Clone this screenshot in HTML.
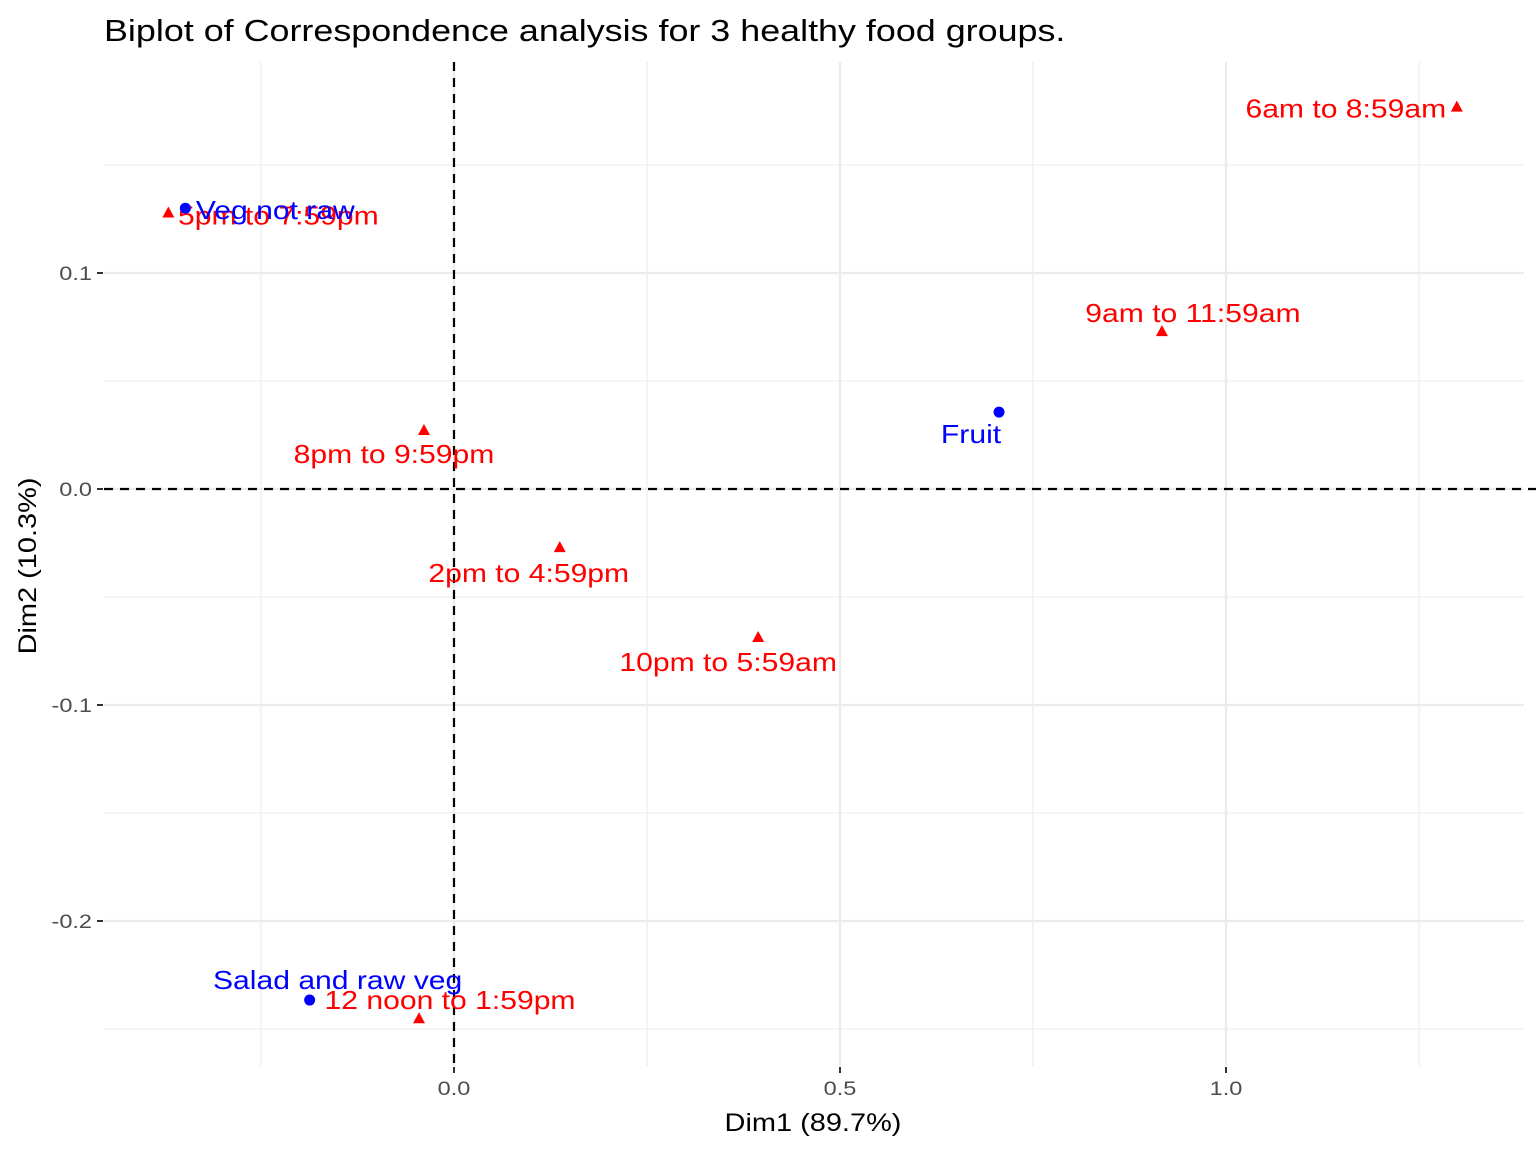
<!DOCTYPE html>
<html><head><meta charset="utf-8"><style>
body{margin:0;background:#fff;}
svg{display:block;font-family:"Liberation Sans",Arial,sans-serif;}
</style></head><body>
<svg id="chart" width="1536" height="1152">
<text class="w" x="104" y="41" font-size="31" fill="#000">Biplot of Correspondence analysis for 3 healthy food groups.</text>
<g id="grid"></g><g id="axes"></g><g id="marks"></g>
<text class="w" x="813" y="1131" font-size="25" text-anchor="middle">Dim1 (89.7%)</text>
<text class="w" transform="translate(36,566) rotate(-90)" font-size="25" text-anchor="middle">Dim2 (10.3%)</text>
</svg>
<script>
const colNames=["Veg not raw","Fruit","Salad and raw veg"];
const colX=[-0.348,0.706,-0.187];
const colY=[0.130,0.0356,-0.2366];
const rowNames=["6am to 8:59am","9am to 11:59am","8pm to 9:59pm","2pm to 4:59pm","10pm to 5:59am","5pm to 7:59pm","12 noon to 1:59pm"];
const rowX=[1.299,0.917,-0.0389,0.137,0.394,-0.370,-0.0453];
const rowY=[0.177,0.0731,0.0273,-0.0269,-0.0685,0.128,-0.245];
const xTicks=[0,0.5,1.0];const xTickLabels=["0.0","0.5","1.0"];
const xMinor=[-0.25,0.25,0.75,1.25];
const yTicks=[0.1,0,-0.1,-0.2];const yTickLabels=["0.1","0.0","-0.1","-0.2"];
const yMinor=[0.15,0.05,-0.05,-0.15,-0.25];
// label offsets in px (layout)
const colLab=[[90,10],[-28,30],[28,-12]];
const rowLab=[[-111,10],[31,-10],[-30,32],[-31,34],[-30,33],[110,11],[31,-10]];
const L=104,R=1524,T=62,B=1066;
const sx=v=>454+v*772, sy=v=>489-v*2160;
const NS="http://www.w3.org/2000/svg";
function mk(tag,attrs,parent){const e=document.createElementNS(NS,tag);for(const k in attrs)e.setAttribute(k,attrs[k]);parent.appendChild(e);return e;}
const grid=document.getElementById('grid'),axes=document.getElementById('axes'),marks=document.getElementById('marks');
xMinor.forEach(v=>{const l=mk('line',{x1:sx(v),x2:sx(v),y1:T,y2:B,stroke:'#ebebeb','stroke-width':1.1},grid);

});
yMinor.forEach(v=>{const l=mk('line',{x1:L,x2:R,y1:sy(v),y2:sy(v),stroke:'#ebebeb','stroke-width':1.1},grid);

});
xTicks.forEach((v,i)=>{const l=mk('line',{x1:sx(v),x2:sx(v),y1:T,y2:B,stroke:'#ebebeb','stroke-width':2.2},grid);


const tk=mk('line',{x1:sx(v),x2:sx(v),y1:B+1,y2:B+7,stroke:'#333','stroke-width':2},axes);


const t=mk('text',{class:'w',x:sx(v),y:1095,'font-size':19,fill:'#4d4d4d','text-anchor':'middle'},axes);t.textContent=xTickLabels[i];

});
yTicks.forEach((v,i)=>{const l=mk('line',{x1:L,x2:R,y1:sy(v),y2:sy(v),stroke:'#ebebeb','stroke-width':2.2},grid);


const tk=mk('line',{x1:97,x2:103,y1:sy(v),y2:sy(v),stroke:'#333','stroke-width':2},axes);


const t=mk('text',{class:'w',x:92,y:sy(v)+7,'font-size':19,fill:'#4d4d4d','text-anchor':'end'},axes);t.textContent=yTickLabels[i];

});
const h=mk('line',{x1:L,x2:R+12,y1:sy(0),y2:sy(0),stroke:'#000','stroke-width':2.2,'stroke-dasharray':'9,7'},axes);


const vl=mk('line',{x1:sx(0),x2:sx(0),y1:T,y2:B,stroke:'#000','stroke-width':2.2,'stroke-dasharray':'9,7'},axes);


rowX.forEach((v,i)=>{const x=sx(v),y=sy(rowY[i]);
const p=mk('polygon',{points:`${x},${y-6} ${x-6},${y+5} ${x+6},${y+5}`,fill:'#f00'},marks);


const t=mk('text',{class:'w',x:x+rowLab[i][0],y:y+rowLab[i][1]+1,'font-size':26,fill:'#f00','text-anchor':'middle'},marks);t.textContent=rowNames[i];

});
colX.forEach((v,i)=>{const x=sx(v),y=sy(colY[i]);
const c=mk('circle',{cx:x,cy:y,r:5.5,fill:'#00f'},marks);


const t=mk('text',{class:'w',x:x+colLab[i][0],y:y+colLab[i][1]+1,'font-size':26,fill:'#00f','text-anchor':'middle'},marks);t.textContent=colNames[i];

});
// widen text to match reference glyph widths
document.querySelectorAll('text.w').forEach(t=>{
  const fs=parseFloat(t.getAttribute('font-size'));
  const base=fs<=20?1.3:1.25;
  const w=t.getComputedTextLength()*base*(24/fs)*(fs/24)/ (fs>20? (fs/24)/(fs/24):1);
  t.setAttribute('textLength',(t.getComputedTextLength()*base*(fs>20?24/fs*(fs<=26?1:1)*(fs/24)/1.08:1/1.05)).toFixed(1));
  t.setAttribute('lengthAdjust','spacingAndGlyphs');
});
</script>
</body></html>
